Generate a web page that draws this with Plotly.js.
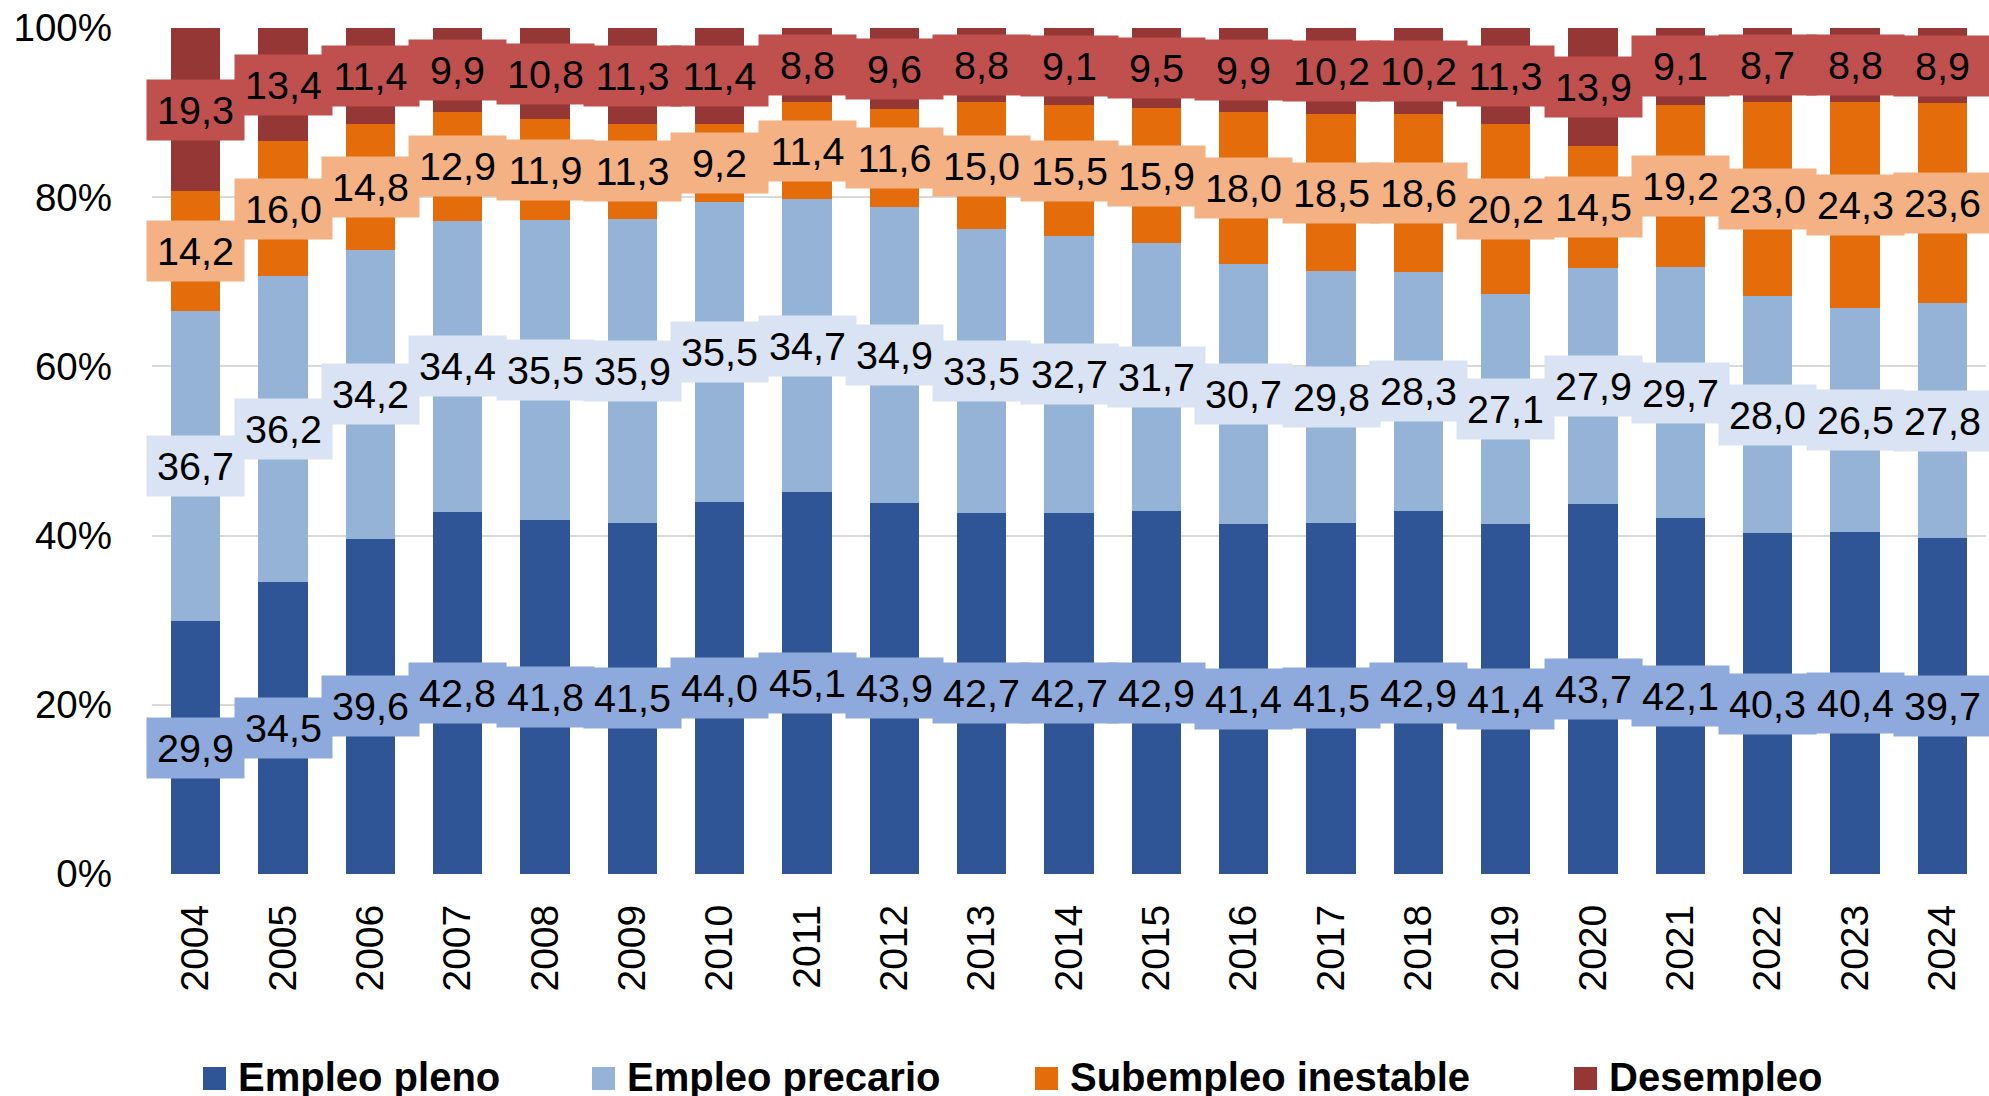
<!DOCTYPE html>
<html>
<head>
<meta charset="utf-8">
<script src="https://cdn.plot.ly/plotly-3.0.1.min.js"></script>
<style>html,body{margin:0;padding:0;background:#fff;}#chart{width:1989px;height:1096px;}</style>
</head>
<body>
<div id="chart"></div>
<script>
const years = ["2004","2005","2006","2007","2008","2009","2010","2011","2012","2013","2014","2015","2016","2017","2018","2019","2020","2021","2022","2023","2024"];
const seriesNames = ["Empleo pleno","Empleo precario","Subempleo inestable","Desempleo"];
const empleoPleno = [29.9,34.5,39.6,42.8,41.8,41.5,44.0,45.1,43.9,42.7,42.7,42.9,41.4,41.5,42.9,41.4,43.7,42.1,40.3,40.4,39.7];
const empleoPrecario = [36.7,36.2,34.2,34.4,35.5,35.9,35.5,34.7,34.9,33.5,32.7,31.7,30.7,29.8,28.3,27.1,27.9,29.7,28.0,26.5,27.8];
const subempleoInestable = [14.2,16.0,14.8,12.9,11.9,11.3,9.2,11.4,11.6,15.0,15.5,15.9,18.0,18.5,18.6,20.2,14.5,19.2,23.0,24.3,23.6];
const desempleo = [19.3,13.4,11.4,9.9,10.8,11.3,11.4,8.8,9.6,8.8,9.1,9.5,9.9,10.2,10.2,11.3,13.9,9.1,8.7,8.8,8.9];
const yTickVals = [0,0.2,0.4,0.6,0.8,1.0];
const yTickText = ["0%","20%","40%","60%","80%","100%"];

const allSeries = [empleoPleno, empleoPrecario, subempleoInestable, desempleo];
const barColors = ["#2F5597","#95B3D7","#E46C0A","#953735"];
const labelColors = ["#8EA9DB","#DAE3F3","#F4B183","#C0504D"];

const FONT = "Liberation Sans, Arial, sans-serif";

const traces = allSeries.map((vals, i) => ({
  type: "bar",
  name: seriesNames[i],
  x: years,
  y: vals,
  marker: {color: barColors[i]},
  showlegend: false,
  hoverinfo: "x+y+name"
}));

const annotations = [];
years.forEach((yr, j) => {
  const total = allSeries.reduce((s, arr) => s + arr[j], 0);
  let cum = 0;
  allSeries.forEach((arr, i) => {
    const v = arr[j];
    annotations.push({
      x: j, y: (cum + v / 2) / total, xref: "x", yref: "y",
      text: v.toFixed(1).replace(".", ","),
      showarrow: false,
      font: {family: FONT, size: 39.5, color: "#000"},
      bgcolor: labelColors[i],
      width: 89, height: 52, borderpad: 4, align: "center", valign: "middle",
      xanchor: "center", yanchor: "middle"
    });
    cum += v;
  });
});

// custom legend (large squares like the original)
const W = 1989, H = 1096, ML = 152, MR = 3, MT = 28, MB = 222;
const pw = W - ML - MR, ph = H - MT - MB;
const px2x = p => (p - ML) / pw;
const py2y = p => (H - MB - p) / ph;
const legendX = [203, 592, 1035, 1574];
const shapes = [];
seriesNames.forEach((nm, i) => {
  const x0 = legendX[i];
  shapes.push({type: "rect", xref: "paper", yref: "paper",
    x0: px2x(x0), x1: px2x(x0 + 23), y0: py2y(1090), y1: py2y(1067),
    fillcolor: barColors[i], line: {width: 0}});
  annotations.push({xref: "paper", yref: "paper", x: px2x(x0 + 33), y: py2y(1077),
    xanchor: "left", yanchor: "middle", showarrow: false, text: nm,
    font: {family: FONT, size: 40, color: "#000", weight: "bold"}});
});

const layout = {
  width: W, height: H,
  margin: {l: ML, r: MR, t: MT, b: MB, pad: 0, autoexpand: false},
  paper_bgcolor: "#fff", plot_bgcolor: "#fff",
  barmode: "stack", barnorm: "fraction", bargap: 0.433,
  showlegend: false,
  font: {family: FONT, size: 38.5, color: "#000"},
  xaxis: {type: "category", range: [-0.5, years.length - 0.5], autorange: false,
    tickangle: -90, showgrid: false, zeroline: false,
    showline: false, ticks: "", tickfont: {family: FONT, size: 39, color: "#000"},
    ticklabelstandoff: 22},
  yaxis: {range: [0, 1], autorange: false, tickvals: yTickVals, ticktext: yTickText, showgrid: true,
    gridcolor: "#D9D9D9", gridwidth: 2, zeroline: false, showline: false, ticks: "",
    tickfont: {family: FONT, size: 38.5, color: "#000"}, ticklabelstandoff: 39},
  annotations: annotations,
  shapes: shapes
};

Plotly.newPlot("chart", traces, layout, {displayModeBar: false, staticPlot: true});
</script>
</body>
</html>
